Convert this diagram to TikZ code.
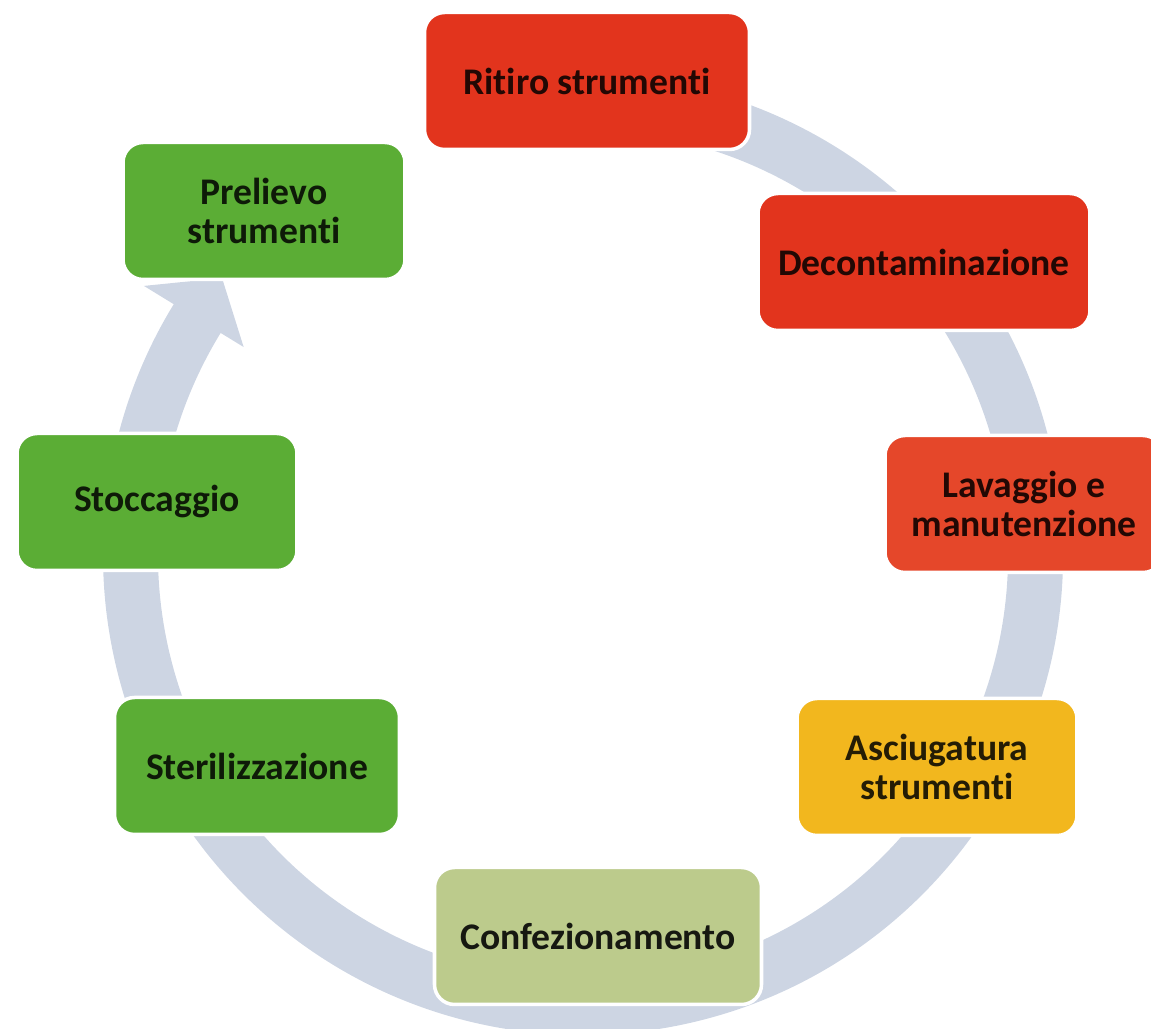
\documentclass[tikz,border=0pt]{standalone}
\usepackage{fontspec}
\setmainfont{Carlito}[Ligatures={NoCommon}, Contextuals=NoAlternate]

\definecolor{ringgray}{HTML}{CDD5E3}
\definecolor{phasered}{HTML}{E2341D}
\definecolor{phaseredlight}{HTML}{E5472A}
\definecolor{phaseamber}{HTML}{F2B71E}
\definecolor{phaseolive}{HTML}{BCCB8C}
\definecolor{phasegreen}{HTML}{5BAD35}

\tikzset{
  phasebox/.style={draw=white, line width=2pt, rounded corners=0.4cm,
    minimum height=2.74cm, align=center, inner sep=2pt,
    font=\bfseries\fontsize{21.4}{22}\selectfont},
}

\begin{document}
\begin{tikzpicture}
	% page frame
	\clip (0,0) rectangle (23.02,20.58);

	% circular arrow behind the boxes
	\begin{scope}[shift={(11.66,9.48)}]
		\fill[ringgray]
			   (100:9.6)
			arc[start angle=100, end angle=-211.5, radius=9.6]
			-- (148.5:10.3)
			-- (142.5:9.1)
			-- (148.5:7.96)
			-- (148.5:8.5)
			arc[start angle=-211.5, end angle=100, radius=8.5]
			-- cycle;
	\end{scope}

	% red phases
	\node[phasebox, fill=phasered, text=phasered!15!black, minimum width=6.5cm]
		(ritiro) at (11.74,18.96) {Ritiro strumenti};
	\node[phasebox, fill=phasered, text=phasered!15!black, minimum width=6.64cm]
		(decont) at (18.48,15.34) {Decontaminazione};
	\node[phasebox, fill=phaseredlight, text=phasered!15!black, minimum width=5.56cm]
		(lavaggio) at (20.48,10.5) {Lavaggio e\\manutenzione};

	% drying and packing
	\node[phasebox, fill=phaseamber, text=phaseamber!15!black, minimum width=5.6cm]
		(asciug) at (18.74,5.24) {Asciugatura\\strumenti};
	\node[phasebox, fill=phaseolive, text=phaseolive!12!black, minimum width=6.54cm]
		(confez) at (11.96,1.86) {Confezionamento};

	% green phases
	\node[phasebox, fill=phasegreen, text=phasegreen!15!black, minimum width=5.7cm]
		(steril) at (5.14,5.26) {Sterilizzazione};
	\node[phasebox, fill=phasegreen, text=phasegreen!15!black, minimum width=5.6cm]
		(stocc) at (3.14,10.54) {Stoccaggio};
	\node[phasebox, fill=phasegreen, text=phasegreen!15!black, minimum width=5.64cm]
		(prelievo) at (5.28,16.36) {Prelievo\\strumenti};
\end{tikzpicture}
\end{document}
